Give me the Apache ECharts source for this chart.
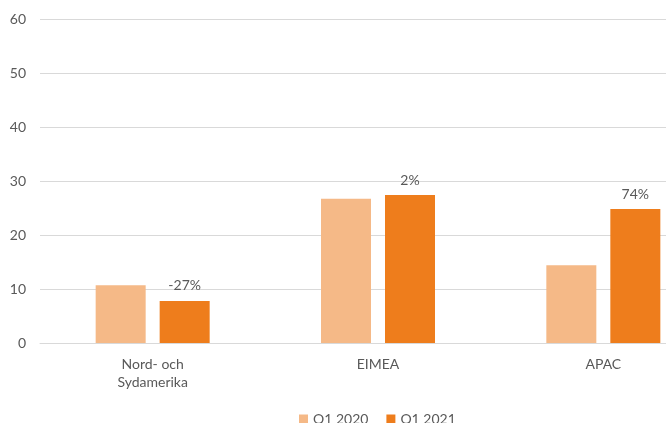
<!DOCTYPE html>
<html><head><meta charset="utf-8">
<script src="https://cdn.jsdelivr.net/npm/echarts@6/dist/echarts.min.js"></script>
<style>html,body{margin:0;padding:0;background:#fff;overflow:hidden;width:666px;height:423px}#c{width:716px;height:423px}</style>
</head><body><div id="c"></div>
<script>
const categories = ['Nord- och\nSydamerika', 'EIMEA', 'APAC'];
const q1_2020 = [10.7, 26.7, 14.4];
const q1_2021 = [7.8, 27.4, 24.8];
const changeLabels = ['-27%', '2%', '74%'];
const seriesNames = ['Q1 2020', 'Q1 2021'];

const chart = echarts.init(document.getElementById('c'));
const font = 'Lato, "Open Sans", sans-serif';
chart.setOption({
  animation: false,
  textStyle: { fontFamily: font },
  grid: { left: 40, right: 0, top: 19, bottom: 80, containLabel: false },
  legend: {
    top: 407, left: 294, itemWidth: 9, itemHeight: 9, itemGap: 18,
    icon: 'rect',
    textStyle: { color: '#595959', fontSize: 14, fontFamily: font },
    data: seriesNames
  },
  xAxis: {
    type: 'category', data: categories,
    axisLine: { lineStyle: { color: '#d9d9d9' } },
    axisTick: { show: false },
    axisLabel: { color: '#595959', fontSize: 14, margin: 12, lineHeight: 18, fontFamily: font }
  },
  yAxis: {
    type: 'value', min: 0, max: 60, interval: 10,
    axisLine: { show: false }, axisTick: { show: false },
    splitLine: { lineStyle: { color: '#d9d9d9' } },
    axisLabel: { color: '#595959', fontSize: 14, margin: 14, fontFamily: font }
  },
  series: [
    { name: seriesNames[0], type: 'bar', data: q1_2020, barWidth: 50, barGap: '28%',
      itemStyle: { color: '#F5B987' } },
    { name: seriesNames[1], type: 'bar', data: q1_2021, barWidth: 50,
      itemStyle: { color: '#EE7D1C' },
      label: { show: true, position: 'top', distance: 8, color: '#595959', fontSize: 14, fontFamily: font,
        formatter: p => changeLabels[p.dataIndex] } }
  ]
});
</script></body></html>
